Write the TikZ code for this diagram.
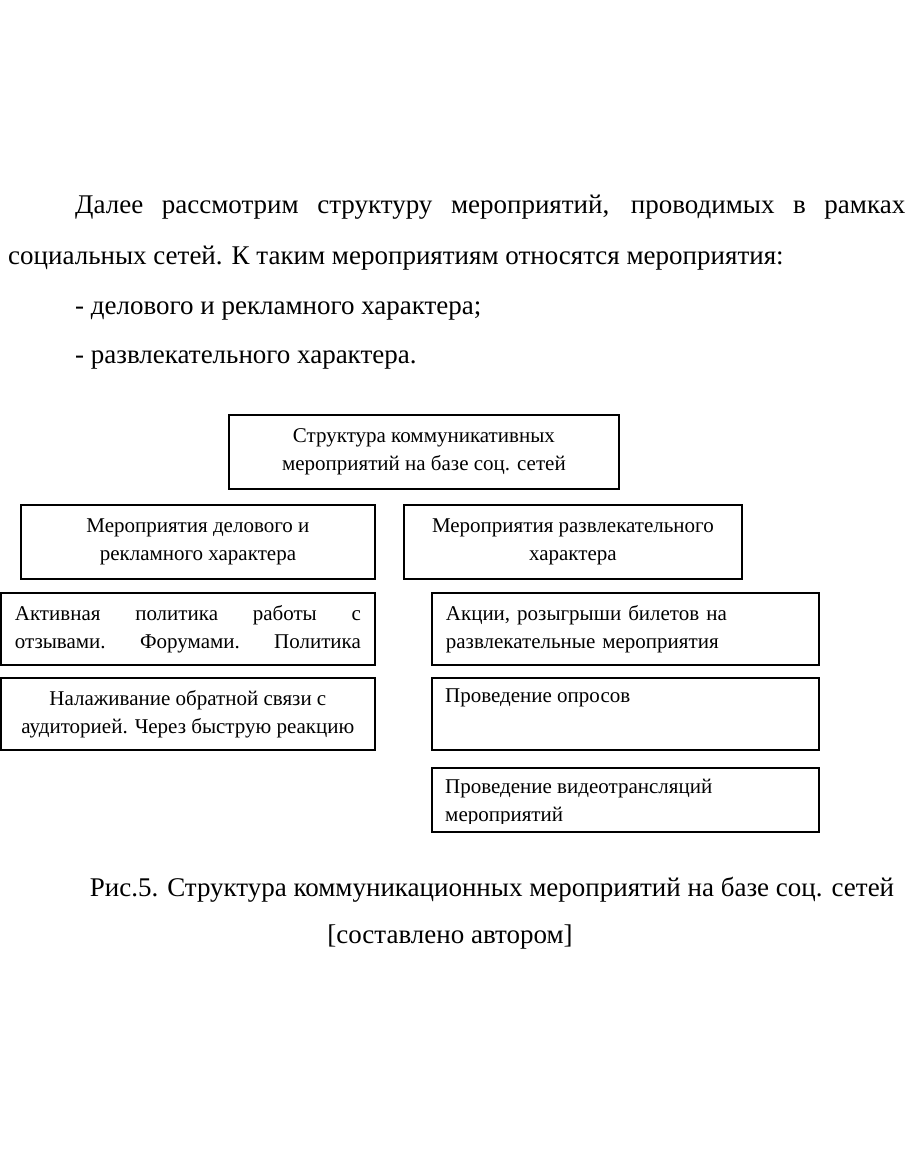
\documentclass[tikz,border=0pt]{standalone}
\usepackage{fontspec}
\setmainfont{Liberation Serif}
\newfontfamily\bodyfont{Liberation Serif}
\usetikzlibrary{positioning}
\tikzset{
  box/.style={draw,line width=1.8pt,inner sep=0pt,anchor=north west,minimum height=74pt},
  btxt/.style={font=\fontsize{21}{28}\selectfont},
  body/.style={font=\bodyfont\fontsize{27}{32}\selectfont,inner sep=0pt,anchor=base west}
}

\begin{document}
\begin{tikzpicture}[x=1pt,y=-1pt]
\useasboundingbox (0,0) rectangle (910,1155);

\node[body] (par1) at (75,214) {\makebox[830pt][s]{Далее рассмотрим структуру мероприятий, проводимых в рамках}};
\node[body] (par2) at (8,265) {социальных сетей. К таким мероприятиям относятся мероприятия:};
\node[body] (item1) at (75,314) {- делового и рекламного характера;};
\node[body] (item2) at (75,363) {- развлекательного характера.};

\node[box,btxt,align=center,minimum width=390pt] (top) at (228,414) {Структура коммуникативных\\мероприятий на базе соц. сетей};

\node[box,btxt,align=center,minimum width=354pt] (biz) at (20,504) {Мероприятия делового и\\рекламного характера};
\node[box,btxt,align=center,minimum width=338pt] (fun) at (403,504) {Мероприятия развлекательного\\характера};

\node[box,btxt,align=left,minimum width=374pt,minimum height=72pt] (biz1) at (0,592) {\makebox[346pt][s]{Активная политика работы с}\\\makebox[346pt][s]{отзывами. Форумами. Политика}};
\node[box,btxt,align=center,minimum width=374pt,minimum height=72pt] (biz2) at (0,677) {Налаживание обратной связи с\\аудиторией. Через быструю реакцию};

\node[box,btxt,align=left,minimum width=387pt,minimum height=72pt,text width=359pt] (fun1) at (431,592) {Акции, розыгрыши билетов на\\развлекательные мероприятия};
\node[box,minimum width=387pt,minimum height=72pt] (fun2) at (431,677) {};
\node[btxt,anchor=north west,inner sep=0pt] (fun2t) at ([shift={(14,12)}]fun2.north west) {Проведение опросов};
\node[box,minimum width=387pt,minimum height=64pt] (fun3) at (431,767) {};
\begin{scope}
\clip (fun3.north west) rectangle ([shift={(0,-9)}]fun3.south east);
\node[btxt,anchor=north west,inner sep=0pt,align=left] (fun3t) at ([shift={(14,12)}]fun3.north west) {Проведение видеотрансляций\\мероприятий};
\end{scope}

\node[body,anchor=base] (cap1) at (492,896) {Рис.5. Структура коммуникационных мероприятий на базе соц. сетей};
\node[body,anchor=base] (cap2) at (450,943) {[составлено автором]};
\end{tikzpicture}
\end{document}
